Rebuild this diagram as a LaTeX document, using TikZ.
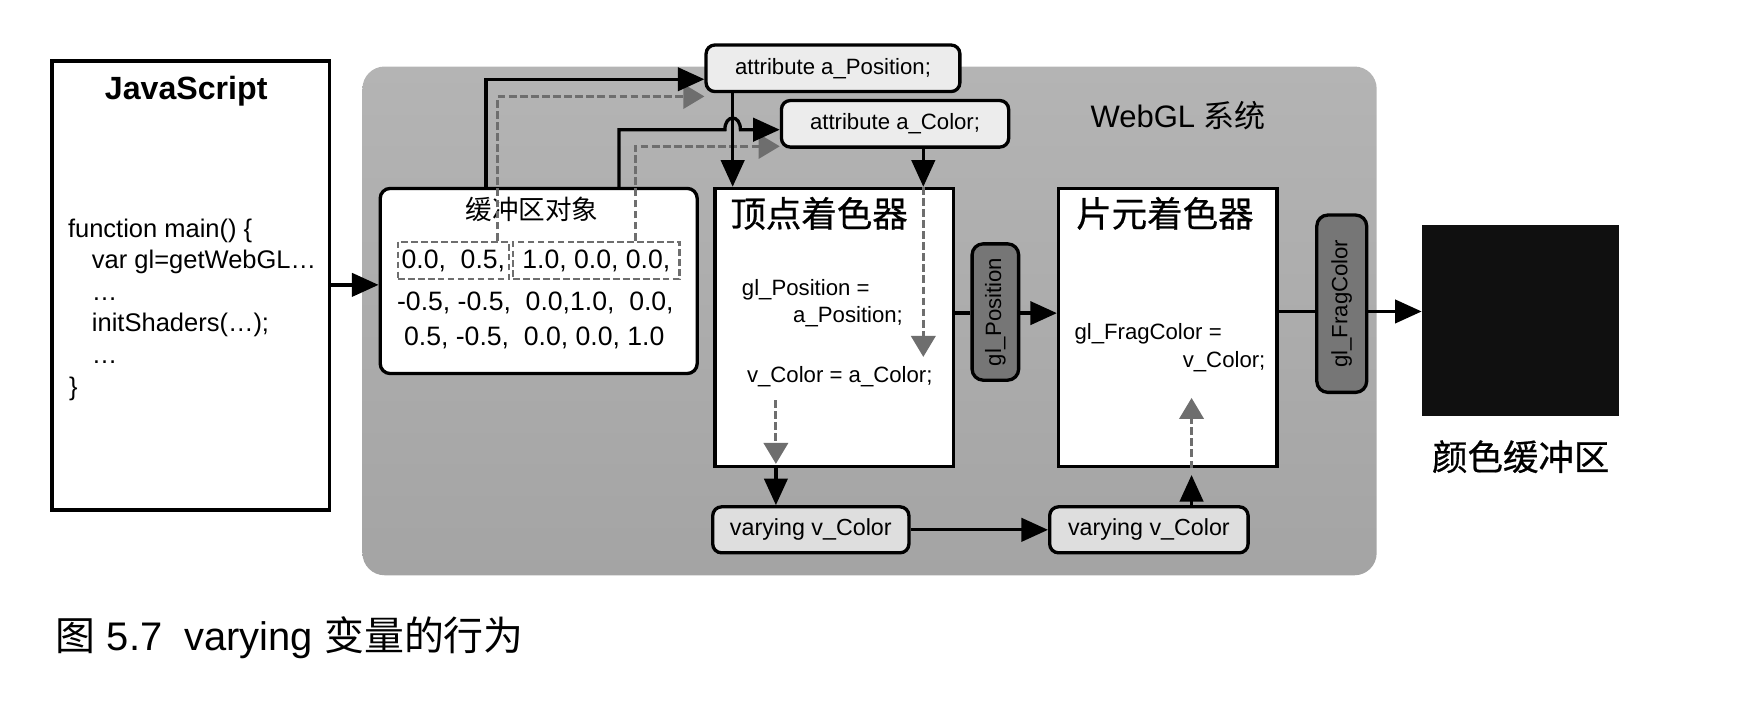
\documentclass[tikz,border=0pt]{standalone}
\usepackage{fontspec}
\setmainfont{Liberation Sans}
\newfontfamily\cjk{Noto Sans CJK SC}
\newfontfamily\cjkb[FakeBold=0.6]{Noto Sans CJK SC}
\usetikzlibrary{arrows.meta}
\definecolor{paneltop}{RGB}{180,180,180}
\definecolor{panelbot}{RGB}{164,164,164}
\definecolor{attrfill}{RGB}{236,236,236}
\definecolor{varyfill}{RGB}{222,222,222}
\definecolor{glfill}{RGB}{118,118,118}
\definecolor{dashgray}{RGB}{110,110,110}
\definecolor{bufblack}{RGB}{16,16,16}
\newcommand{\fsz}[1]{\fontsize{#1pt}{#1pt}\selectfont}
\begin{document}
\begin{tikzpicture}[x=0.5pt,y=-0.5pt,
  jsbox/.style={draw=black, line width=1.5pt, fill=white, minimum width=125pt, minimum height=202.5pt, inner sep=0pt},
  bufbox/.style={draw=black, line width=1.5pt, fill=white, rounded corners=4.5pt, minimum width=143pt, minimum height=83.5pt, inner sep=0pt},
  shbox/.style={draw=black, line width=1.5pt, fill=white, minimum height=125.5pt, inner sep=0pt},
  attrbox/.style={draw=black, line width=1.5pt, fill=attrfill, rounded corners=4pt, minimum height=21pt, inner sep=0pt, font=\fsz{10}},
  varybox/.style={draw=black, line width=1.5pt, fill=varyfill, rounded corners=4pt, minimum height=20.75pt, inner sep=0pt, font=\fsz{10.5}},
  glbox/.style={draw=black, line width=1.5pt, fill=glfill, rounded corners=5pt, rotate=90, inner sep=0pt, font=\fsz{10}},
  dbox/.style={draw=dashgray, line width=1pt, dash pattern=on 3pt off 1.5pt, minimum height=17pt, inner sep=0pt},
  code/.style={font=\fsz{11.5}, inner sep=0pt},
  codeb/.style={font=\fsz{10}, inner sep=0pt},
  data/.style={font=\fsz{12}, inner sep=0pt},
  titlecjk/.style={font={\cjkb\fsz{16}}, inner sep=0pt},
  arr/.style={draw=black, line width=1.5pt, -{Triangle[length=12pt,width=10.5pt]}},
  plainline/.style={draw=black, line width=1.5pt},
  darr/.style={draw=dashgray, line width=1.3pt, dash pattern=on 3.5pt off 1.5pt, -{Triangle[length=9.5pt,width=11pt]}}
]
\useasboundingbox (0,0) rectangle (1568,653);
\shade[top color=paneltop, bottom color=panelbot, rounded corners=10pt] (327,60) rectangle (1242,519);

% JavaScript box
\node[jsbox] (js) at (172,257.5) {};
\node[font={\bfseries\fsz{14.5}}, inner sep=0pt] (jst) at (168,82) {JavaScript};
\node[code, anchor=base west] (c1) at (61,214) {function main() \{};
\node[code, anchor=base west] (c2) at (82.6,242.5) {var gl=getWebGL…};
\node[code, anchor=base west] (c3) at (82.6,271) {…};
\node[code, anchor=base west] (c4) at (82.6,299.5) {initShaders(…);};
\node[code, anchor=base west] (c5) at (82.6,328) {…};
\node[code, anchor=base west] (c6) at (62,356.5) {\}};

% buffer object
\node[bufbox] (buf) at (486,253.5) {};
\node[font={\cjk\fsz{12}}, inner sep=0pt] (buft) at (480,189) {缓冲区对象};
\node[dbox, minimum width=50pt] (d1) at (409,235) {};
\node[dbox, minimum width=75pt] (d2) at (538,235) {};
\node[data] (r1a) at (409,235) {0.0,\ \ 0.5,};
\node[data] (r1b) at (538,235) {1.0, 0.0, 0.0,};
\node[data] (r2) at (483,273.5) {-0.5, -0.5,\ \ 0.0,1.0,\ \ 0.0,};
\node[data] (r3) at (482,305) {0.5, -0.5,\ \ 0.0, 0.0, 1.0};

% vertex shader
\node[shbox, minimum width=107.5pt] (vs) at (752.5,295.5) {};
\node[titlecjk] (vst) at (739,192.5) {顶点着色器};
\node[codeb, anchor=west] (v1) at (669,261.6) {gl\_Position =};
\node[codeb, anchor=east] (v2) at (815,285.7) {a\_Position;};
\node[codeb, anchor=west] (v3) at (673.6,339.8) {v\_Color = a\_Color;};

% fragment shader
\node[shbox, minimum width=98.5pt] (fs) at (1053.5,295.5) {};
\node[titlecjk] (fst) at (1051,192.5) {片元着色器};
\node[codeb, anchor=west] (f1) at (969,300.8) {gl\_FragColor =};
\node[codeb, anchor=east] (f2) at (1142,326) {v\_Color;};

% gl boxes
\node[glbox, minimum width=61.5pt, minimum height=21pt] (glp) at (898,281.5) {gl\_Position};
\node[glbox, minimum width=80pt, minimum height=22.5pt] (gfc) at (1210.5,274) {gl\_FragColor};

% color buffer
\node[fill=bufblack, minimum width=89pt, minimum height=86pt, inner sep=0pt] (cb) at (1372,289) {};
\node[titlecjk] (cbt) at (1372,412) {颜色缓冲区};

\node[font=\fsz{14}, inner sep=0pt] (web) at (1063,104) {WebGL {\cjk 系统}};

% attributes
\node[attrbox, minimum width=114.5pt] (apos) at (751.5,61.6) {attribute a\_Position;};
\node[attrbox, minimum width=102.5pt] (acol) at (807.5,111.7) {attribute a\_Color;};

% varyings
\node[varybox, minimum width=88.5pt] (vl) at (731.5,478) {varying v\_Color};
\node[varybox, minimum width=89.5pt] (vr) at (1036.5,478) {varying v\_Color};

% caption
\node[font=\fsz{18}, anchor=west, inner sep=0pt] (cap) at (50,575.7) {{\cjk 图} 5.7\ \ varying {\cjk 变量的行为}};

% helper coordinates
\coordinate (yJ) at (0,257);
\coordinate (xA) at (438.5,71.5);
\coordinate (xB) at (449,87);
\coordinate (xC) at (558.5,117);
\coordinate (xD) at (573,132);
\coordinate (xE) at (661,0);
\coordinate (hx) at (661,117);
\coordinate (xF) at (833,322);
\coordinate (yM) at (0,282.5);
\coordinate (yN) at (0,281);
\coordinate (xG) at (700,361);
\coordinate (xH) at (1075,359);

% connectors
\draw[darr] (d1.north -| xB) |- (apos.west |- xB);
\draw[darr] (d2.north -| xD) |- (acol.west |- xD);
\draw[arr] (js.east |- yJ) -- (buf.west |- yJ);
\draw[arr] (buf.north -| xA) |- (apos.west |- xA);
\draw[arr] (apos.south -| xE) -- (vs.north -| xE);
\draw[arr] (buf.north -| xC) -- (xC) -- ([xshift=-3.5pt]hx)
  .. controls ([xshift=-3.5pt,yshift=7pt]hx) and ([xshift=3.5pt,yshift=7pt]hx) .. ([xshift=3.5pt]hx)
  -- (acol.west |- xC);
\draw[arr] (acol.south -| xF) -- (vs.north -| xF);
\draw[darr] (vs.north -| xF) -- (xF);
\draw[plainline] (vs.east |- yM) -- (glp.north |- yM);
\draw[arr] (glp.south |- yM) -- (fs.west |- yM);
\draw[plainline] (fs.east |- yN) -- (gfc.north |- yN);
\draw[arr] (gfc.south |- yN) -- (cb.west |- yN);
\draw[darr] (xG) -- ([yshift=2pt]vs.south -| xG);
\draw[arr] (vs.south -| xG) -- (vl.north -| xG);
\draw[arr] (vl) -- (vr);
\draw[arr] (vr.north -| xH) -- ([yshift=-3pt]fs.south -| xH);
\draw[darr] (fs.south -| xH) -- (xH);
\end{tikzpicture}
\end{document}
